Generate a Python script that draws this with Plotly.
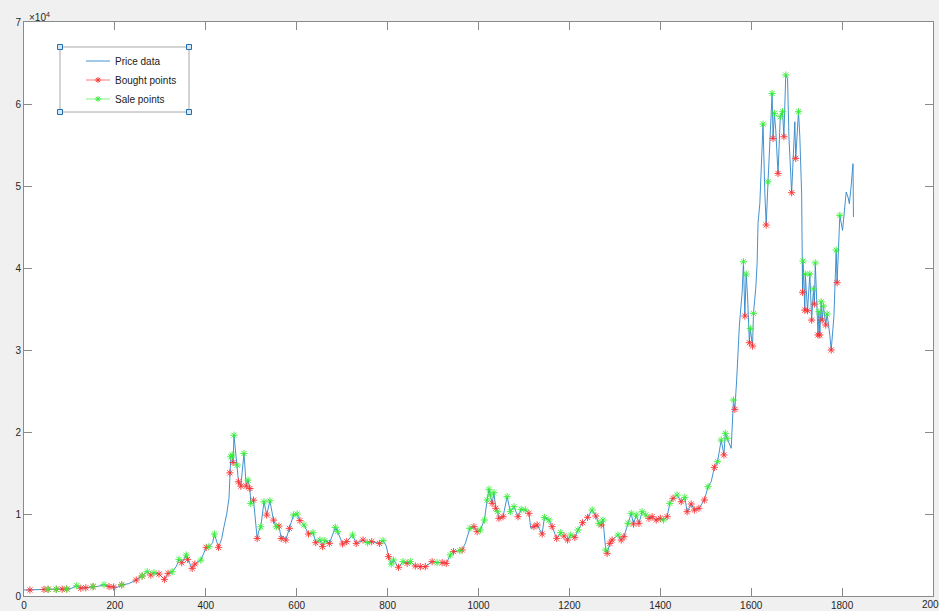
import plotly.graph_objects as go

# ---------------- data ----------------
price_days = [0, 13, 30, 44, 53, 71, 84, 94, 105, 116, 125, 136, 152, 165, 176, 187, 197, 205, 215, 230,
              247, 260, 271, 279, 286, 297, 309, 317, 326, 335, 341, 347, 357, 360, 370, 376, 389, 401, 407, 415,
              419, 428, 435, 440, 446, 451, 453, 455, 458, 460, 462, 466, 469, 472, 477, 484, 489, 493, 497, 499,
              505, 509, 513, 517, 521, 528, 534, 541, 549, 555, 561, 566, 570, 576, 584, 593, 601, 607, 616, 626,
              636, 642, 651, 657, 662, 672, 685, 690, 701, 710, 723, 731, 746, 756, 765, 782, 790, 797, 802, 808,
              813, 824, 834, 843, 850, 861, 872, 883, 898, 909, 920, 929, 938, 945, 959, 964, 971, 981, 990, 997,
              1004, 1013, 1019, 1023, 1026, 1030, 1034, 1038, 1042, 1045, 1054, 1063, 1070, 1078, 1087, 1094, 1103, 1111, 1115, 1122,
              1129, 1140, 1145, 1155, 1162, 1172, 1181, 1188, 1196, 1203, 1212, 1219, 1229, 1240, 1250, 1258, 1265, 1270, 1274, 1280,
              1283, 1289, 1294, 1307, 1314, 1320, 1329, 1336, 1341, 1347, 1353, 1360, 1368, 1375, 1382, 1391, 1400, 1407, 1415, 1421,
              1428, 1437, 1446, 1454, 1459, 1468, 1475, 1485, 1497, 1505, 1512, 1519, 1526, 1534, 1540, 1543, 1547, 1556, 1561, 1564,
              1568, 1574, 1580, 1583, 1586, 1589, 1592, 1596, 1598, 1601, 1603, 1605, 1610, 1613, 1615, 1619, 1622, 1626, 1630, 1633,
              1637, 1641, 1646, 1648, 1651, 1654, 1659, 1664, 1669, 1672, 1676, 1680, 1683, 1689, 1694, 1696, 1698, 1704, 1707, 1711,
              1713, 1714, 1718, 1719, 1724, 1729, 1733, 1737, 1739, 1741, 1747, 1749, 1751, 1754, 1756, 1759, 1764, 1767, 1773, 1776,
              1782, 1785, 1787, 1789, 1795, 1801, 1806, 1809, 1813, 1816, 1820, 1824, 1825]
price_vals = [730, 730, 720, 800, 820, 820, 830, 850, 950, 1250, 950, 1000, 1140, 1200, 1380, 1150, 1100, 1050, 1350, 1500,
              1950, 2440, 2960, 2560, 2840, 2680, 2030, 2760, 2960, 3600, 4470, 4060, 4990, 4470, 3370, 3900, 4380, 5930, 6010, 6500,
              7550, 5930, 7000, 8450, 10000, 11900, 15020, 16970, 17200, 16280, 19610, 17000, 15960, 13930, 13400, 17380, 13400, 14130, 13110, 11290,
              11690, 9000, 7020, 8000, 8440, 11490, 9870, 11610, 9260, 8440, 8530, 7020, 7300, 6830, 8250, 9880, 10000, 9190, 8660, 7560,
              7720, 6500, 6830, 6020, 6750, 6420, 8370, 7850, 6340, 6630, 7440, 6420, 6830, 6500, 6630, 6420, 6750, 6100, 4800, 3900,
              4390, 3500, 4190, 3980, 4190, 3660, 3580, 3580, 4190, 4070, 4070, 3980, 5000, 5410, 5530, 5610, 6420, 8250, 8460, 7850,
              8050, 9270, 11700, 13010, 12320, 11300, 12600, 10690, 10280, 9470, 9670, 12110, 10280, 10890, 9670, 10570, 10490, 10080, 8250, 8460,
              8660, 7560, 9590, 9270, 8460, 7030, 7720, 7320, 6830, 7440, 7150, 8050, 8940, 9590, 10490, 9760, 8860, 8660, 9270, 5610,
              5200, 6420, 6830, 7440, 6830, 7240, 8860, 10080, 8780, 9880, 8860, 10280, 9880, 9470, 9670, 9270, 9470, 9270, 9670, 11300,
              11910, 12320, 11500, 12030, 10280, 11220, 10490, 10690, 11710, 13330, 13940, 15690, 16380, 19020, 17200, 19840, 19230, 18010, 23900, 22760,
              26340, 33000, 37000, 40760, 34140, 39260, 36500, 30890, 32630, 31500, 30480, 34470, 37520, 40570, 45440, 47880, 51940, 57550, 49100, 45240,
              50510, 55200, 61290, 55800, 58860, 56820, 51530, 58450, 59060, 56010, 63530, 63120, 56010, 49180, 54990, 57840, 53370, 59060, 56010, 49000,
              37040, 40850, 34870, 39260, 34790, 39260, 33650, 37450, 35600, 40620, 31830, 34670, 31830, 35880, 33650, 35350, 33050, 34390, 31830, 30000,
              34060, 38130, 42190, 38210, 46420, 44590, 47840, 49260, 48650, 47840, 50080, 52720, 46220]

bought_days = [13, 44, 53, 71, 84, 94, 125, 136, 152, 187, 197, 215, 247, 260, 279, 297, 309, 317, 347, 360,
               370, 376, 401, 428, 453, 460, 472, 477, 489, 497, 505, 513, 534, 549, 561, 566, 576, 584, 607, 626,
               642, 657, 672, 701, 710, 731, 746, 765, 782, 802, 824, 843, 861, 872, 883, 898, 920, 929, 945, 964,
               990, 997, 1030, 1038, 1045, 1054, 1087, 1111, 1122, 1129, 1140, 1162, 1172, 1188, 1196, 1212, 1229, 1240, 1258, 1270,
               1283, 1289, 1294, 1314, 1320, 1341, 1353, 1375, 1382, 1391, 1400, 1415, 1428, 1446, 1459, 1468, 1475, 1485, 1497, 1519,
               1540, 1564, 1586, 1596, 1603, 1633, 1648, 1659, 1672, 1689, 1698, 1713, 1718, 1724, 1733, 1739, 1747, 1751, 1756, 1764,
               1776, 1789]
sale_days = [53, 71, 94, 116, 152, 176, 215, 260, 271, 286, 326, 341, 357, 389, 407, 419, 455, 458, 462, 469,
             484, 493, 499, 521, 528, 541, 555, 593, 601, 616, 636, 651, 662, 685, 690, 723, 756, 790, 808, 813,
             834, 850, 909, 938, 959, 981, 1004, 1013, 1019, 1023, 1026, 1034, 1042, 1063, 1070, 1078, 1094, 1103, 1145, 1155,
             1181, 1203, 1219, 1250, 1265, 1274, 1280, 1307, 1329, 1336, 1347, 1360, 1368, 1407, 1421, 1437, 1454, 1505, 1526, 1534,
             1543, 1547, 1561, 1583, 1589, 1598, 1605, 1626, 1637, 1646, 1651, 1664, 1669, 1676, 1704, 1714, 1719, 1729, 1737, 1741,
             1749, 1754, 1759, 1767, 1787, 1795]

x_ticks = [0, 200, 400, 600, 800, 1000, 1200, 1400, 1600, 1800, 2000]
y_ticks = [0, 10000, 20000, 30000, 40000, 50000, 60000, 70000]
y_tick_labels = ["0", "1", "2", "3", "4", "5", "6", "7"]
legend_labels = ["Price data", "Bought points", "Sale points"]

# ---------------- figure ----------------
lookup = dict(zip(price_days, price_vals))
b_x = [d for d in bought_days if d in lookup]
b_y = [lookup[d] for d in b_x]
s_x = [d for d in sale_days if d in lookup]
s_y = [lookup[d] for d in s_x]

BLUE = "#2f86c8"
RED = "#ff3030"
GREEN = "#33ee33"
AXC = "#8a8a8a"
FONT = "Liberation Sans, Arial, Helvetica, sans-serif"

fig = go.Figure()
fig.add_trace(go.Scatter(x=price_days, y=price_vals, mode="lines",
                         line=dict(color=BLUE, width=0.9), showlegend=False, hoverinfo="skip"))
fig.add_trace(go.Scatter(x=b_x, y=b_y, mode="markers", showlegend=False,
                         marker=dict(symbol="asterisk-open", size=6, color=RED, line=dict(width=0.9, color=RED))))
fig.add_trace(go.Scatter(x=s_x, y=s_y, mode="markers", showlegend=False,
                         marker=dict(symbol="asterisk-open", size=6, color=GREEN, line=dict(width=0.9, color=GREEN))))

# legend drawn on an overlay pixel-space axis (MATLAB style box)
L, R, T, B = 24, 933, 22, 596
box = (60, 47, 189, 112)
rows_y = [61, 80, 99]
cols = [BLUE, RED, GREEN]
for i, (yy, c) in enumerate(zip(rows_y, cols)):
    fig.add_trace(go.Scatter(x=[86, 110], y=[yy, yy], mode="lines", xaxis="x2", yaxis="y2",
                             line=dict(color=c, width=0.9), showlegend=False, hoverinfo="skip",
                             opacity=0.7 if i else 1))
    if i:
        fig.add_trace(go.Scatter(x=[98], y=[yy], mode="markers", xaxis="x2", yaxis="y2", showlegend=False,
                                 hoverinfo="skip",
                                 marker=dict(symbol="asterisk-open", size=5, color=c, line=dict(width=0.9, color=c))))
    fig.add_annotation(x=113, y=yy, xref="x2", yref="y2", text=legend_labels[i], showarrow=False,
                       xanchor="left", yanchor="middle", font=dict(family=FONT, size=10, color="#1a1a1a"))
fig.add_shape(type="rect", x0=box[0], y0=box[1], x1=box[2], y1=box[3], xref="x2", yref="y2",
              line=dict(color="#a8a8a8", width=1), fillcolor="white", layer="below")
fig.add_trace(go.Scatter(x=[box[0], box[2], box[0], box[2]], y=[box[1], box[1], box[3], box[3]],
                         mode="markers", xaxis="x2", yaxis="y2", showlegend=False, hoverinfo="skip",
                         marker=dict(symbol="square", size=5, color="#d6e6f4", line=dict(width=1, color="#1f6fb4"))))

fig.add_annotation(x=0, y=1, xref="paper", yref="paper", xanchor="left", yanchor="bottom",
                   text="×10<sup>4</sup>", showarrow=False, xshift=3, yshift=-3,
                   font=dict(family=FONT, size=10, color="#262626"))
# last x tick label, cut by the page edge as in the reference
fig.add_annotation(x=x_ticks[-1], y=0, xref="x", yref="paper", xanchor="center", yanchor="top",
                   text=str(x_ticks[-1]), showarrow=False, yshift=-1,
                   font=dict(family=FONT, size=10, color="#262626"))

axis_common = dict(showgrid=False, zeroline=False, showline=True, linecolor=AXC, linewidth=1,
                   ticks="inside", ticklen=8, tickcolor=AXC, tickwidth=1, mirror="ticks",
                   tickfont=dict(family=FONT, size=10, color="#262626"))
fig.update_layout(
    width=939, height=611,
    margin=dict(l=L, r=939 - R, t=T, b=611 - B, autoexpand=False),
    paper_bgcolor="#f0f0f0", plot_bgcolor="white",
    xaxis=dict(range=[0, 2000], tickvals=x_ticks, ticktext=[str(v) for v in x_ticks], **axis_common),
    yaxis=dict(range=[0, 70000], tickvals=y_ticks, ticktext=y_tick_labels, **axis_common),
    xaxis2=dict(range=[L, R], overlaying="x", visible=False, fixedrange=True),
    yaxis2=dict(range=[B, T], overlaying="y", visible=False, fixedrange=True),
    showlegend=False,
)
fig.write_html("out.html", post_script="document.body.style.margin='0';",
               config={"displayModeBar": False})
